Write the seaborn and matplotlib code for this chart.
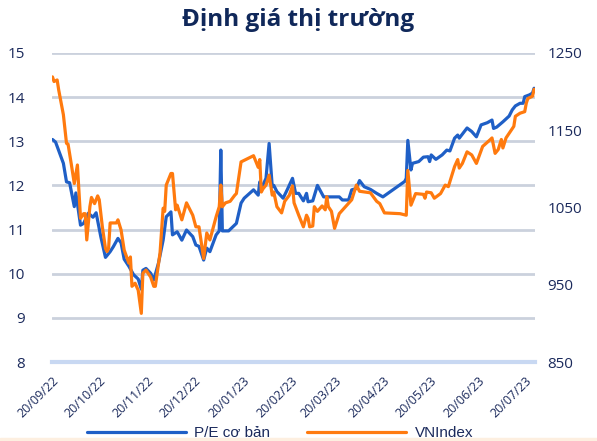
import pandas as pd
import seaborn as sb
import matplotlib.dates as mdates
from matplotlib import pyplot as plt
from matplotlib.patches import Rectangle

# days counted from 20/09/22
pe_days = [0, 2, 7, 9, 11, 14, 15, 18, 20, 23, 26, 28, 31, 34, 37, 39, 42, 44, 46, 49,
           52, 55, 57, 58, 60, 63, 65, 68, 71, 73, 76, 77, 80, 83, 86, 90, 92, 94, 97, 99,
           101, 105, 107, 108, 109, 113, 118, 121, 123, 129, 132, 133, 134, 137, 139, 141,
           142, 144, 148, 151, 154, 156, 158, 161, 163, 164, 167, 170, 174, 184, 186, 190,
           192, 195, 197, 200, 204, 208, 210, 212, 226, 227, 228, 230, 231, 235, 238, 241,
           242, 243, 246, 250, 253, 255, 258, 260, 261, 266, 269, 272, 275, 279, 282, 283,
           285, 289, 293, 295, 297, 300, 302, 303, 306, 308, 309]
pe_values = [13.04, 12.98, 12.5, 12.08, 12.06, 11.52, 11.83, 11.1, 11.14, 11.37, 11.28, 11.38,
             10.84, 10.37, 10.5, 10.61, 10.8, 10.7, 10.33, 10.17, 9.98, 9.88, 9.65, 10.08,
             10.12, 10.01, 9.86, 10.24, 10.76, 11.29, 11.4, 10.88, 10.95, 10.76, 10.99, 10.84,
             10.65, 10.62, 10.31, 10.58, 10.5, 10.88, 10.97, 12.8, 10.97, 10.97, 11.14, 11.6,
             11.71, 11.9, 11.78, 12.08, 11.93, 12.16, 12.95, 11.97, 12.0, 11.86, 11.71, 11.93,
             12.16, 11.82, 11.82, 11.65, 11.82, 11.63, 11.65, 12.0, 11.74, 11.74, 11.67, 11.67,
             11.9, 11.93, 12.11, 11.97, 11.91, 11.82, 11.78, 11.74, 12.09, 12.16, 13.02, 12.35,
             12.5, 12.54, 12.64, 12.65, 12.54, 12.69, 12.59, 12.69, 12.8, 12.78, 13.07, 13.14,
             13.07, 13.3, 13.22, 13.1, 13.37, 13.42, 13.48, 13.29, 13.32, 13.44, 13.57, 13.71,
             13.8, 13.86, 13.86, 14.01, 14.05, 14.09, 14.2]

vni_days = [0, 1, 3, 4, 7, 9, 10, 12, 14, 16, 18, 20, 21, 22, 24, 25, 27, 29, 30, 32, 34, 35,
            36, 37, 41, 42, 44, 46, 49, 50, 51, 53, 55, 57, 58, 60, 63, 65, 66, 69, 71, 72, 73,
            76, 77, 79, 80, 83, 86, 90, 92, 94, 97, 99, 101, 105, 107, 108, 109, 111, 114, 117,
            118, 121, 124, 129, 130, 132, 133, 134, 135, 137, 139, 141, 142, 144, 147, 149, 152,
            154, 155, 158, 161, 163, 164, 165, 167, 168, 170, 173, 175, 176, 177, 179, 181, 184,
            188, 192, 195, 197, 204, 208, 210, 213, 223, 227, 228, 230, 233, 238, 239, 240, 243,
            245, 249, 252, 254, 258, 260, 261, 263, 266, 269, 272, 274, 276, 281, 282, 284, 286,
            288, 289, 291, 296, 297, 300, 303, 304, 305, 308, 309]
vni_values = [1219, 1213, 1215, 1202, 1170, 1133, 1132, 1107, 1081, 1105, 1036, 1042, 1042,
              1008, 1051, 1063, 1055, 1065, 1060, 1025, 997, 993, 997, 1030, 1030, 1034, 1021,
              995, 978, 986, 948, 952, 943, 913, 965, 969, 960, 948, 948, 991, 1049, 1045, 1079,
              1094, 1094, 1047, 1053, 1034, 1056, 1040, 1025, 1025, 984, 1017, 1008, 1038, 1051,
              1079, 1051, 1056, 1058, 1066, 1068, 1109, 1112, 1117, 1112, 1102, 1112, 1070, 1074,
              1079, 1092, 1066, 1070, 1051, 1043, 1058, 1066, 1078, 1056, 1040, 1025, 1040, 1036,
              1025, 1026, 1051, 1045, 1052, 1047, 1064, 1051, 1045, 1023, 1042, 1051, 1060, 1079,
              1071, 1069, 1058, 1055, 1043, 1042, 1040, 1098, 1053, 1068, 1067, 1062, 1070, 1069,
              1062, 1068, 1079, 1077, 1103, 1112, 1101, 1107, 1122, 1118, 1107, 1118, 1129, 1138,
              1140, 1120, 1125, 1138, 1127, 1140, 1155, 1168, 1172, 1174, 1185, 1191, 1194, 1203]

start = pd.Timestamp("2022-09-20")
navy = "#1b2a5c"
blue = "#1f5fc6"
orange = "#ff7a0e"

sb.set_style("white")
plt.rcParams["font.family"] = ["Open Sans", "DejaVu Sans"]

pe_df = pd.DataFrame({"date": start + pd.to_timedelta(pe_days, unit="D"), "pe": pe_values})
vni_df = pd.DataFrame({"date": start + pd.to_timedelta(vni_days, unit="D"), "vni": vni_values})

fig = plt.figure(figsize=(5.97, 4.41), dpi=100)
# thin peach strip along the bottom edge
fig.patches.append(Rectangle((0, 0), 1, 3.5 / 441, transform=fig.transFigure,
                             color="#fdefe0", zorder=0))
ax = fig.add_axes([0.0879, 0.179, 0.808, 0.701])
ax2 = ax.twinx()

sb.lineplot(data=pe_df, x="date", y="pe", ax=ax, color=blue, linewidth=2.3, label="P/E cơ bản", legend=False)
sb.lineplot(data=vni_df, x="date", y="vni", ax=ax2, color=orange, linewidth=2.3, label="VNIndex", legend=False)

ax.set_ylim(8, 15)
ax.set_yticks(range(8, 16))
ax2.set_ylim(850, 1250)
ax2.set_yticks(range(850, 1251, 100))
ax.set_xlim(start, start + pd.Timedelta(days=309.5))

ticks = [start + pd.DateOffset(months=i) for i in range(11)]
ax.set_xticks(ticks)
ax.xaxis.set_major_formatter(mdates.DateFormatter("%d/%m/%y"))
for lbl in ax.get_xticklabels():
    lbl.set_rotation(45)
    lbl.set_ha("right")
    lbl.set_va("top")
    lbl.set_rotation_mode("anchor")

ax.grid(axis="y", color="#cbd1dd", linewidth=2)
ax.set_axisbelow(True)
for a in (ax, ax2):
    for s in a.spines.values():
        s.set_visible(False)
    a.set_xlabel("")
    a.set_ylabel("")
ax.spines["bottom"].set_visible(True)
ax.spines["bottom"].set_color("#c8d8f2")
ax.spines["bottom"].set_linewidth(3)

ax.tick_params(axis="x", colors="#c8d8f2", length=5, width=2, labelcolor=navy, labelsize=9, pad=4)
ax.tick_params(axis="y", length=0, labelcolor=navy, labelsize=11, pad=20)
ax2.tick_params(axis="y", length=0, labelcolor=navy, labelsize=11, pad=9)

fig.text(0.5, 1 - 20 / 441, "Định giá thị trường", ha="center", va="center",
         fontsize=17.5, fontweight="bold", color="#10285a")

handles = ax.get_lines()[:1] + ax2.get_lines()[:1]
fig.legend(handles, ["P/E cơ bản", "VNIndex"], loc="center left", bbox_to_anchor=(0.122, 0.018),
           ncol=2, frameon=False, handlelength=6.5, columnspacing=2.4, handletextpad=0.55,
           prop={"family": ["Liberation Sans", "DejaVu Sans"], "size": 11}, labelcolor=navy)

fig.savefig("out.png", dpi=100)
